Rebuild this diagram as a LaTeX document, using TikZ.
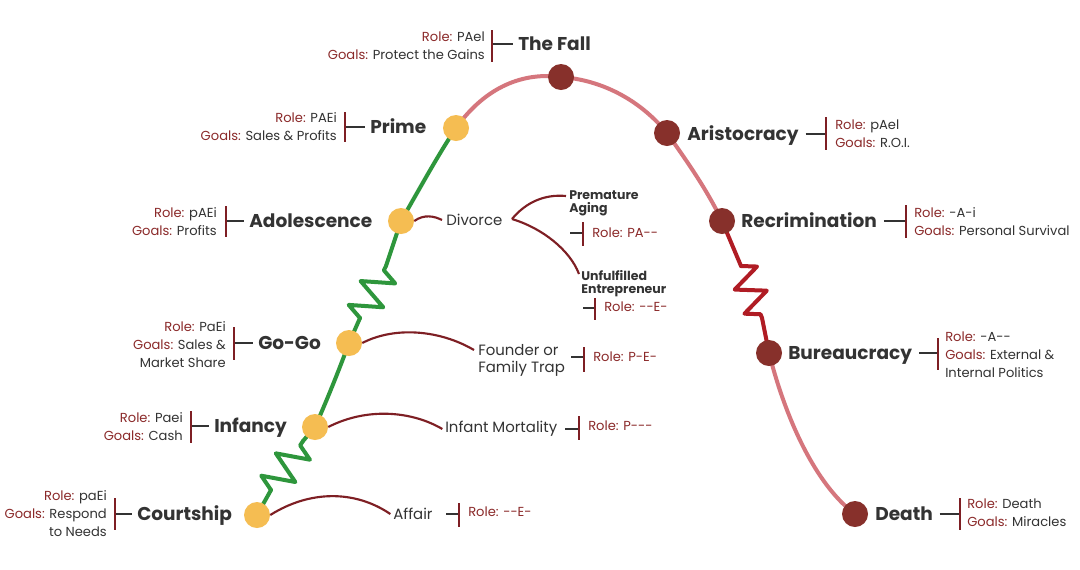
\documentclass[tikz,border=0pt]{standalone}
\usepackage{fontspec}
\setmainfont{Poppins}
\usetikzlibrary{decorations.pathmorphing}
\definecolor{ylw}{HTML}{F5BD52}
\definecolor{dred}{HTML}{87302B}
\definecolor{pinkl}{HTML}{D5767D}
\definecolor{grn}{HTML}{2E963C}
\definecolor{lred}{HTML}{7E1F24}
\definecolor{zred}{HTML}{B01C24}
\definecolor{txt}{HTML}{333333}
\definecolor{rolec}{HTML}{8B2A2A}
\newcommand\lbl[1]{\textcolor{rolec}{#1}}
\pgfdeclarelayer{back}
\pgfdeclarelayer{bg}
\pgfsetlayers{back,bg,main}
\begin{document}
\begin{tikzpicture}[x=0.75pt,y=-0.75pt,
  dotY/.style={circle,fill=ylw,minimum size=19.5pt,inner sep=0pt},
  dotR/.style={circle,fill=dred,minimum size=19.5pt,inner sep=0pt},
  stage/.style={font=\bfseries\fontsize{13.9}{16}\selectfont,text=txt,inner sep=0pt,text height=9.6pt,text depth=0pt},
  info/.style={font=\fontsize{9.8}{13.5}\selectfont,text=txt,inner sep=0pt},
  br/.style={font=\fontsize{11.2}{12.8}\selectfont,text=txt,inner sep=0pt},
  brb/.style={font=\bfseries\fontsize{9.4}{9.8}\selectfont,text=txt,inner sep=0pt},
  mainline/.style={line width=3pt,line cap=round,line join=round},
  zig/.style={decorate,decoration={zigzag,segment length=20pt,amplitude=12pt}},
  zigr/.style={decorate,decoration={zigzag,segment length=19.5pt,amplitude=11pt}},
  side/.style={draw=lred,line width=1.6pt},
  bar/.style={draw=lred,line width=2.2pt},
  tick/.style={draw=txt,line width=2pt}]
\begin{pgfonlayer}{back}
\fill[white] (0,0) rectangle (1080,569);
\end{pgfonlayer}
\useasboundingbox (0,0) rectangle (1080,569);

% stage dots
\node[dotY] (cs) at (257,515) {};
\node[dotY] (inf) at (315,427) {};
\node[dotY] (gg) at (349,343) {};
\node[dotY] (ado) at (401,221) {};
\node[dotY] (prime) at (456,128) {};
\node[dotR] (fall) at (561,77) {};
\node[dotR] (ari) at (667,133) {};
\node[dotR] (rec) at (722,221) {};
\node[dotR] (bur) at (769,353) {};
\node[dotR] (death) at (855,514) {};

\coordinate (z1a) at (271,490);
\coordinate (z1b) at (303,441);
\coordinate (z2a) at (360,318);
\coordinate (z2b) at (386,266);
\coordinate (z3a) at (741,266);
\coordinate (z3b) at (762,318);

\begin{pgfonlayer}{bg}
% green rise
\draw[mainline,draw=grn] (cs.center) -- (z1a);
\draw[mainline,draw=grn,zig] (z1a) -- (z1b);
\draw[mainline,draw=grn] (z1b) -- (inf.center) .. controls (327,400) and (339,370) .. (gg.center) -- (z2a);
\draw[mainline,draw=grn,zig] (z2a) -- (z2b);
\draw[mainline,draw=grn] (z2b) -- (ado.center) .. controls (420,188) and (438,155) .. (prime.center);
% pink arc
\draw[mainline,draw=pinkl] (prime.center) .. controls (486,86) and (524,72) .. (fall.center)
  .. controls (602,80) and (640,100) .. (ari.center)
  .. controls (686,160) and (706,188) .. (rec.center);
\draw[mainline,draw=zred] (rec.center) -- (z3a);
\draw[mainline,draw=zred,zigr] (z3a) -- (z3b);
\draw[mainline,draw=zred] (z3b) -- (bur.center);
\draw[mainline,draw=pinkl] (bur.center) .. controls (786,420) and (816,485) .. (death.center);
\end{pgfonlayer}

% ---------- left stage labels ----------
\node[stage,anchor=west] (lfall) at (518,44) {The Fall};
\draw[tick] (492,44) -- ([xshift=-4pt]lfall.west);
\draw[bar] (492,30) -- (492,62);
\node[info,anchor=east,align=right] (ifall) at (485,46) {\lbl{Role:} PAel\\\lbl{Goals:} Protect the Gains};

\node[stage,anchor=west] (lprime) at (370,127) {Prime};
\draw[tick] (345,127) -- ([xshift=-4pt]lprime.west);
\draw[bar] (345,112) -- (345,142);
\node[info,anchor=east,align=right] (iprime) at (337,127) {\lbl{Role:} PAEi\\\lbl{Goals:} Sales \& Profits};

\node[stage,anchor=west] (lado) at (249,221) {Adolescence};
\draw[tick] (226,221) -- ([xshift=-4pt]lado.west);
\draw[bar] (226,206) -- (226,237);
\node[info,anchor=east,align=right] (iado) at (217,222) {\lbl{Role:} pAEi\\\lbl{Goals:} Profits};

\node[stage,anchor=west] (lgg) at (258,343) {Go-Go};
\draw[tick] (234,343) -- ([xshift=-4pt]lgg.west);
\draw[bar] (234,327) -- (234,360);
\node[info,anchor=east,align=right] (igg) at (226,345) {\lbl{Role:} PaEi\\\lbl{Goals:} Sales \&\\Market Share};

\node[stage,anchor=west] (linf) at (214,426) {Infancy};
\draw[tick] (191,426) -- ([xshift=-4pt]linf.west);
\draw[bar] (191,411) -- (191,443);
\node[info,anchor=east,align=right] (iinf) at (183,427) {\lbl{Role:} Paei\\\lbl{Goals:} Cash};

\node[stage,anchor=west] (lcs) at (137,514) {Courtship};
\draw[tick] (115,514) -- ([xshift=-4pt]lcs.west);
\draw[bar] (115,498) -- (115,530);
\node[info,anchor=east,align=right] (ics) at (107,514) {\lbl{Role:} paEi\\\lbl{Goals:} Respond\\to Needs};

% ---------- right stage labels ----------
\node[stage,anchor=west] (lari) at (687,134) {Aristocracy};
\draw[tick] ([xshift=5pt]lari.east) -- (826,134);
\draw[bar] (826,117) -- (826,150);
\node[info,anchor=west,align=left] (iari) at (835,134) {\lbl{Role:} pAel\\\lbl{Goals:} R.O.I.};

\node[stage,anchor=west] (lrec) at (741,221) {Recrimination};
\draw[tick] ([xshift=5pt]lrec.east) -- (906,221);
\draw[bar] (906,205) -- (906,238);
\node[info,anchor=west,align=left] (irec) at (914,222) {\lbl{Role:} -A-i\\\lbl{Goals:} Personal Survival};

\node[stage,anchor=west] (lbur) at (788,353) {Bureaucracy};
\draw[tick] ([xshift=5pt]lbur.east) -- (938,353);
\draw[bar] (938,338) -- (938,370);
\node[info,anchor=west,align=left] (ibur) at (945,355) {\lbl{Role:} -A-{}-\\\lbl{Goals:} External \&\\Internal Politics};

\node[stage,anchor=west] (ldeath) at (875,514) {Death};
\draw[tick] ([xshift=5pt]ldeath.east) -- (960,514);
\draw[bar] (960,498) -- (960,530);
\node[info,anchor=west,align=left] (ideath) at (967,513) {\lbl{Role:} Death\\\lbl{Goals:} Miracles};

% ---------- side branches ----------
\node[br,anchor=west] (div) at (446,220) {Divorce};
\draw[side] (ado.east) .. controls (424,214) and (434,216) .. ([xshift=-3pt]div.west);
\node[brb,anchor=north west,align=left] (pa) at (569,190) {Premature\\Aging};
\node[brb,anchor=north west,align=left] (ue) at (581,270) {Unfulfilled\\Entrepreneur};
\coordinate (dfork) at (512,219);
\draw[side] (dfork) .. controls (526,202) and (545,194) .. (566,196);
\draw[side] (dfork) .. controls (542,228) and (570,250) .. (579,274);
\draw[tick] (570,233) -- (583,233);
\draw[bar] (583,222) -- (583,246);
\node[info,anchor=west] (rpa) at (592,233) {\lbl{Role: PA-{}-}};
\draw[tick] (583,308) -- (595,308);
\draw[bar] (595,298) -- (595,320);
\node[info,anchor=west] (rue) at (604,307) {\lbl{Role: -{}-E-}};

\node[br,anchor=north west,align=left] (ft) at (478,344) {Founder or\\Family Trap};
\draw[side] (gg.east) .. controls (395,326) and (440,330) .. (474,350);
\draw[tick] (571,357) -- (584,357);
\draw[bar] (584,347) -- (584,372);
\node[info,anchor=west] (rft) at (593,357) {\lbl{Role: P-E-}};

\node[br,anchor=west] (im) at (445,429) {Infant Mortality};
\draw[side] (inf.east) .. controls (365,408) and (410,410) .. ([xshift=-2pt]im.west);
\draw[tick] (565,429) -- (579,429);
\draw[bar] (579,416) -- (579,440);
\node[info,anchor=west] (rim) at (588,426) {\lbl{Role: P-{}-{}-}};

\node[br,anchor=west] (aff) at (393,514) {Affair};
\draw[side] (cs.east) .. controls (310,490) and (355,490) .. ([xshift=-2pt]aff.west);
\draw[tick] (446,514) -- (459,514);
\draw[bar] (459,503) -- (459,527);
\node[info,anchor=west] (raff) at (468,512) {\lbl{Role: -{}-E-}};
\end{tikzpicture}
\end{document}
